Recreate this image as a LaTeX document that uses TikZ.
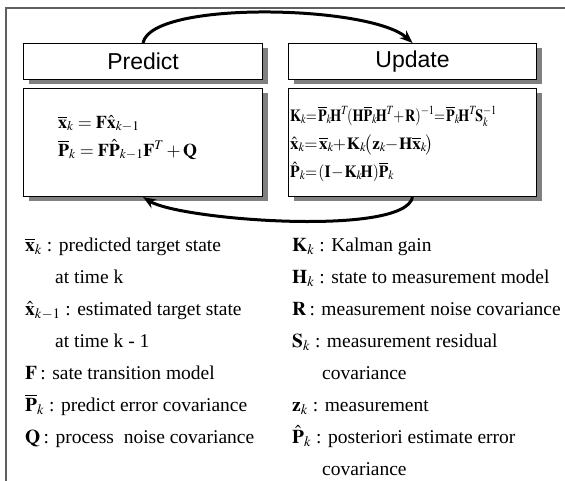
\documentclass[tikz,border=0pt]{standalone}
\usepackage{mathptmx}
\usepackage{fontspec}
\setmainfont{Liberation Serif}
\newfontfamily\hdrfont{Liberation Sans}
\usetikzlibrary{arrows.meta,shadows}
\definecolor{framegray}{RGB}{95,95,95}
\definecolor{shadowgray}{RGB}{128,128,128}
\newcommand{\bv}[1]{\mathbf{#1}}
\newcommand{\ob}[1]{\overline{\bv{#1}}}
\newcommand{\legsize}{\fontsize{19.5}{22}\selectfont}
\newcommand{\eqsize}{\fontsize{18}{21}\selectfont}
% update equations: tight operators, scripts tucked against the next symbol
\newcommand{\tighteq}{\fontsize{17}{20}\selectfont\thickmuskip=1.5mu\medmuskip=1mu\scriptspace=-1.5pt}
\begin{document}
\begin{tikzpicture}[x=1pt,y=-1pt,
  panel/.style={draw=black, line width=1.1pt, fill=white, anchor=north west,
    inner sep=0pt,
    drop shadow={shadow xshift=5pt, shadow yshift=-4pt, fill=shadowgray, opacity=1}},
  header/.style={panel, minimum height=36pt, font=\hdrfont\fontsize{23}{27}\selectfont},
  body/.style={panel, minimum height=108pt},
  eqn/.style={anchor=base west, inner sep=0pt, font=\eqsize},
  upeqn/.style={anchor=base west, inner sep=0pt, font=\tighteq},
  leg/.style={anchor=base west, inner sep=0pt, font=\legsize},
  loop/.style={line width=3pt, -{Stealth[length=13pt,width=10pt]}}]
\useasboundingbox (0,0) rectangle (565,480);
\draw[framegray, line width=1.5pt] (6,482) -- (6,8) -- (567,8);

% predict and update panels
\node[header, minimum width=239pt] (ph) at (23,43) {Predict};
\node[body, minimum width=239pt] (pb) at (23,88) {};
\node[header, minimum width=248pt] (uh) at (288,43) {Update};
\node[body, minimum width=248pt] (ub) at (288,88) {};

% filter equations
\node[eqn] (e1) at (58,128) {$\ob{x}_k=\bv{F}\hat{\bv{x}}_{k-1}$};
\node[eqn] (e2) at (58,156) {$\ob{P}_k=\bv{F}\hat{\bv{P}}_{k-1}\bv{F}^T+\bv{Q}$};
\node[upeqn] (e3) at (290,121) {\scalebox{0.83}[1]{$\bv{K}_k=\ob{P}_k\bv{H}^T(\bv{H}\ob{P}_k\bv{H}^T+\bv{R})^{-1}=\ob{P}_k\bv{H}^T\bv{S}_k^{-1}$}};
\node[upeqn] (e4) at (290,149) {$\hat{\bv{x}}_k=\ob{x}_k+\bv{K}_k\bigl(\bv{z}_k-\bv{H}\ob{x}_k\bigr)$};
\node[upeqn] (e5) at (290,177) {\scalebox{0.92}[1]{$\hat{\bv{P}}_k=(\bv{I}-\bv{K}_k\bv{H})\ob{P}_k$}};

% cycle arrows
\draw[loop] (ph.north) .. controls +(8,-43) and +(-42,-38) .. (uh.north);
\draw[loop] (ub.south) .. controls +(-8,40) and +(37,23) .. (pb.south);

% symbol legend, left column
\node[leg] (l1) at (25,251) {$\ob{x}_k$ : predicted target state};
\node[leg] (l2) at (55,283) {at time k};
\node[leg] (l3) at (25,315) {$\hat{\bv{x}}_{k-1}$ : estimated target state};
\node[leg] (l4) at (55,347) {at time k - 1};
\node[leg] (l5) at (25,379) {$\bv{F}$\,: sate transition model};
\node[leg] (l6) at (25,411) {$\ob{P}_k$ : predict error covariance};
\node[leg] (l7) at (25,443) {$\bv{Q}$\,: process\ \ noise covariance};

% symbol legend, right column
\node[leg] (r1) at (292,251) {$\bv{K}_k$ : Kalman gain};
\node[leg] (r2) at (292,283) {$\bv{H}_k$ : state to measurement model};
\node[leg] (r3) at (292,315) {$\bv{R}$\,: measurement noise covariance};
\node[leg] (r4) at (292,347) {$\bv{S}_k$ : measurement residual};
\node[leg] (r5) at (322,379) {covariance};
\node[leg] (r6) at (292,411) {$\bv{z}_k$ : measurement};
\node[leg] (r7) at (292,443) {$\hat{\bv{P}}_k$ : posteriori estimate error};
\node[leg] (r8) at (322,475) {covariance};
\end{tikzpicture}
\end{document}
